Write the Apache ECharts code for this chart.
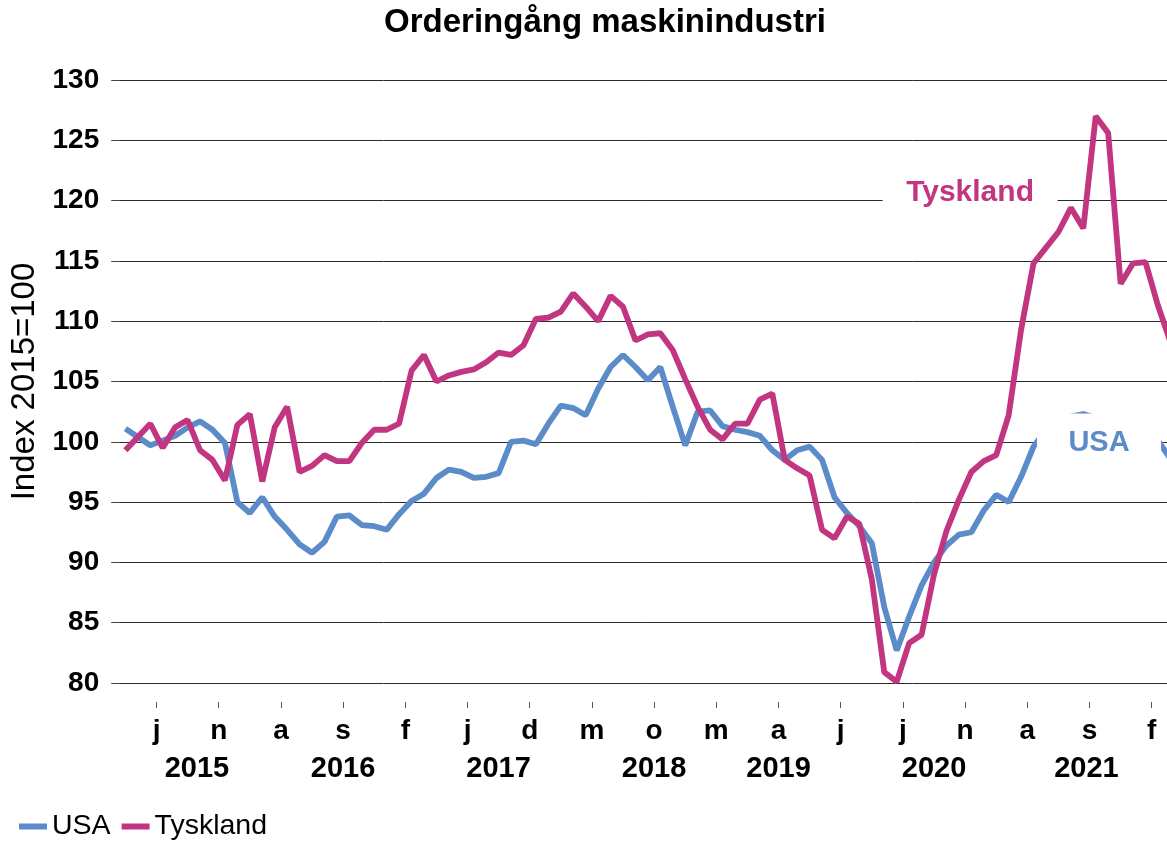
<!DOCTYPE html>
<html><head><meta charset="utf-8">
<script src="https://cdn.jsdelivr.net/npm/echarts@6/dist/echarts.min.js"></script>
<style>html,body{margin:0;padding:0;background:#fff;overflow:hidden}#c{width:1180px;height:842px}</style>
</head><body><div id="c"></div>
<script>
// ---------- DATA ----------
const startYear = 2015;           // first month: January 2015
const monthCount = 85;            // Jan 2015 .. Jan 2022
const months = [];
for (let i = 0; i < monthCount; i++) {
  months.push((startYear + Math.floor(i / 12)) + '-' + String(i % 12 + 1).padStart(2, '0'));
}
const usa = [
  101.1, 100.4, 99.7, 100.1, 100.5, 101.2, 101.7, 101.0, 99.9, 95.0,
  94.1, 95.4, 93.8, 92.7, 91.5, 90.8, 91.7, 93.8, 93.9, 93.1,
  93.0, 92.7, 94.0, 95.1, 95.7, 97.0, 97.7, 97.5, 97.0, 97.1,
  97.4, 100.0, 100.1, 99.8, 101.5, 103.0, 102.8, 102.2, 104.4, 106.2,
  107.2, 106.2, 105.1, 106.2, 102.9, 99.7, 102.5, 102.6, 101.3, 101.0,
  100.8, 100.5, 99.3, 98.5, 99.3, 99.6, 98.5, 95.4, 94.1, 93.0,
  91.6, 86.3, 82.7, 85.5, 88.1, 90.0, 91.4, 92.3, 92.5, 94.3,
  95.6, 95.0, 97.1, 99.6, 101.0, 101.8, 102.1, 102.3, 102.0, 101.4,
  101.5, 101.0, 100.6, 100.1, 98.6
];
const tyskland = [
  99.3, 100.4, 101.5, 99.5, 101.2, 101.8, 99.3, 98.5, 96.8, 101.4,
  102.3, 96.7, 101.2, 102.9, 97.5, 98.0, 98.9, 98.4, 98.4, 99.9,
  101.0, 101.0, 101.5, 105.9, 107.2, 105.0, 105.5, 105.8, 106.0, 106.6,
  107.4, 107.2, 108.0, 110.2, 110.3, 110.8, 112.3, 111.2, 110.0, 112.1,
  111.2, 108.4, 108.9, 109.0, 107.6, 105.2, 102.9, 101.0, 100.2, 101.5,
  101.5, 103.5, 104.0, 98.5, 97.8, 97.2, 92.7, 92.0, 93.8, 93.2,
  88.6, 80.9, 80.1, 83.3, 84.0, 89.0, 92.6, 95.2, 97.5, 98.4,
  98.9, 102.2, 109.3, 114.8, 116.1, 117.4, 119.4, 117.7, 127.0, 125.6,
  113.1, 114.8, 114.9, 111.3, 108.3
];
const monthTickLabels = ['j','n','a','s','f','j','d','m','o','m','a','j','j','n','a','s','f'];
const yearLabels = ['2015','2016','2017','2018','2019','2020','2021'];
const seriesNames = ['USA', 'Tyskland'];
const yMin = 80, yMax = 130, yStep = 5;

// ---------- LAYOUT ----------
const FONT = "'Liberation Sans', Arial, Helvetica, sans-serif";
const BLUE = '#5B8BC9', MAG = '#C13581';
const monthTickFirst = 3, monthTickStep = 5;          // month boundaries carrying a label
const yearQuarterSlots = [25, 72, 122, 172, 212, 262, 311]; // quarter-month slots of year labels

const boundaryCats = [], monthLabelAt = {};
for (let b = 0; b <= monthCount; b++) boundaryCats.push('b' + b);
monthTickLabels.forEach((t, k) => { monthLabelAt[monthTickFirst + k * monthTickStep] = t; });
const quarterCats = [], yearLabelAt = {};
for (let q = 0; q <= monthCount * 4; q++) quarterCats.push('q' + q);
yearLabels.forEach((t, k) => { yearLabelAt[yearQuarterSlots[k]] = t; });

const chart = echarts.init(document.getElementById('c'), null, {renderer: 'canvas'});
chart.setOption({
  animation: false,
  backgroundColor: '#fff',
  title: {
    text: 'Orderingång maskinindustri',
    left: 605, top: 6, padding: 0, textAlign: 'center',
    textStyle: {fontFamily: FONT, fontSize: 33, fontWeight: 'bold', color: '#000'}
  },
  legend: {
    data: seriesNames, left: 19, top: 812, padding: 0,
    icon: 'rect', itemWidth: 28, itemHeight: 6, itemGap: 11,
    textStyle: {fontFamily: FONT, fontSize: 28.5, color: '#000'}
  },
  grid: {left: 119.2, right: 3.4, top: 80, bottom: 159, containLabel: false},
  xAxis: [
    {
      type: 'category', data: months, boundaryGap: true, position: 'bottom',
      axisLine: {show: false}, axisTick: {show: false}, axisLabel: {show: false}, splitLine: {show: false}
    },
    {
      type: 'category', data: boundaryCats, boundaryGap: false, position: 'bottom', offset: 19,
      axisLine: {show: false}, splitLine: {show: false},
      axisTick: {show: true, length: 6, interval: (i) => monthLabelAt[i] !== undefined,
                 lineStyle: {color: '#555', width: 1}},
      axisLabel: {show: true, interval: (i) => monthLabelAt[i] !== undefined,
                  formatter: (v, i) => monthLabelAt[i] || '', margin: 15,
                  fontFamily: FONT, fontSize: 28, fontWeight: 'bold', color: '#000'}
    },
    {
      type: 'category', data: quarterCats, boundaryGap: false, position: 'bottom', offset: 0,
      axisLine: {show: false}, axisTick: {show: false}, splitLine: {show: false},
      axisLabel: {show: true, interval: (i) => yearLabelAt[i] !== undefined,
                  formatter: (v, i) => yearLabelAt[i] || '', margin: 71,
                  fontFamily: FONT, fontSize: 29, fontWeight: 'bold', color: '#000'}
    }
  ],
  yAxis: {
    type: 'value', min: yMin, max: yMax, interval: yStep,
    name: 'Index 2015=100', nameLocation: 'middle', nameGap: 72, nameRotate: 90,
    nameTextStyle: {fontFamily: FONT, fontSize: 33, color: '#000'},
    axisLine: {show: false},
    axisTick: {show: true, length: 8, lineStyle: {color: '#444', width: 1}},
    axisLabel: {margin: 20, fontFamily: FONT, fontSize: 28, fontWeight: 'bold', color: '#000'},
    splitLine: {show: true, lineStyle: {color: '#2a2a2a', width: 1}}
  },
  series: [
    {
      name: seriesNames[0], type: 'line', data: usa, xAxisIndex: 0, symbol: 'none',
      lineStyle: {color: BLUE, width: 5.8}, itemStyle: {color: BLUE},
      markPoint: {
        silent: true, symbol: 'rect', symbolSize: [124, 58],
        itemStyle: {color: '#fff', borderWidth: 0},
        label: {show: true, position: 'inside', formatter: 'USA',
                fontFamily: FONT, fontSize: 29, fontWeight: 'bold', color: BLUE},
        data: [{coord: [months[78], 99.94], symbolOffset: [3.3, 0]}]
      }
    },
    {
      name: seriesNames[1], type: 'line', data: tyskland, xAxisIndex: 0, symbol: 'none',
      lineStyle: {color: MAG, width: 5.8}, itemStyle: {color: MAG},
      markPoint: {
        silent: true, symbol: 'rect', symbolSize: [175, 40],
        itemStyle: {color: '#fff', borderWidth: 0},
        label: {show: true, position: 'inside', formatter: 'Tyskland',
                fontFamily: FONT, fontSize: 30, fontWeight: 'bold', color: MAG},
        data: [{coord: [months[68], 120.63], symbolOffset: [-1.3, 0]}]
      }
    }
  ]
});
</script>
</body></html>
